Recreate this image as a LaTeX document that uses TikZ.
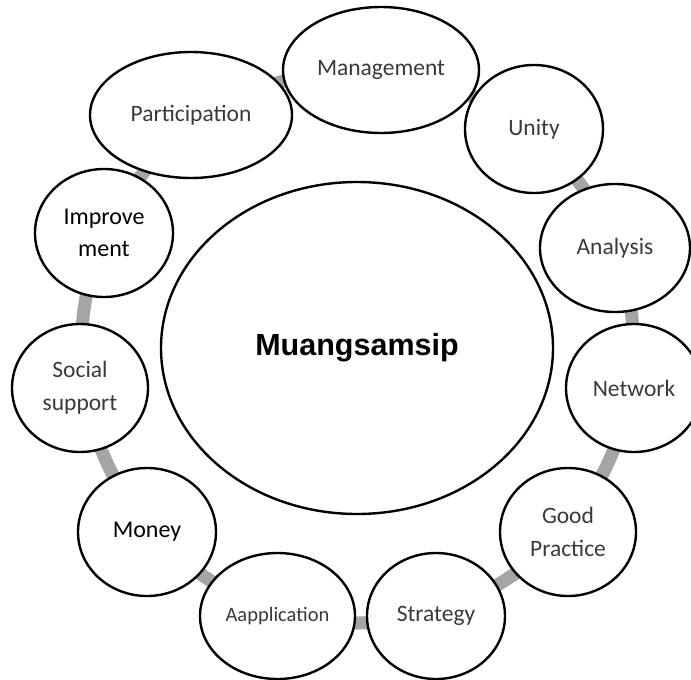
\documentclass[tikz,border=0pt]{standalone}
\usepackage{fontspec}
\setmainfont{Carlito}
\newfontfamily\headfont{Liberation Sans}
\usetikzlibrary{shapes.geometric}
\definecolor{ringgray}{HTML}{A5A5A5}
\definecolor{softink}{HTML}{3A3A3A}
\begin{document}
\begin{tikzpicture}[x=1pt,y=-1pt,
  bubble/.style={ellipse,draw=black,line width=2.4pt,fill=white,inner sep=0pt,
    align=center,text=softink,font=\fontsize{23.5}{33}\selectfont},
  strong/.style={text=black,font=\fontsize{24}{32}\selectfont},
  ring/.style={draw=ringgray,line width=13pt}]
\useasboundingbox (0,0) rectangle (691,680);
\fill[white] (0,0) rectangle (691,680);

% gray ring linking the outer bubbles
\coordinate (ringc) at (357.5,347);
\draw[ring] (ringc) circle[radius=276];

% central topic
\node[bubble,minimum width=392,minimum height=332,text=black,
  font=\headfont\bfseries\fontsize{30.5}{36}\selectfont] (hub) at (357,348) {Muangsamsip};

% outer bubbles, clockwise from the top
\node[bubble,minimum width=196,minimum height=126] (mgmt) at (381,70) {Management};
\node[bubble,minimum width=138,minimum height=128] (unity) at (534,129) {Unity};
\node[bubble,minimum width=150,minimum height=128] (analysis) at (615,248) {Analysis};
\node[bubble,minimum width=136,minimum height=128] (network) at (634,388) {Network};
\node[bubble,minimum width=136,minimum height=128] (good) at (568,532) {Good\\Practice};
\node[bubble,minimum width=138,minimum height=126] (strategy) at (436,616) {Strategy};
\node[bubble,minimum width=155,minimum height=126,font=\fontsize{20.5}{24}\selectfont] (app) at (277.5,616) {Aapplication};
\node[bubble,strong,minimum width=138,minimum height=128] (money) at (147,532) {Money};
\node[bubble,minimum width=136,minimum height=128] (social) at (80,388) {Social\\support};
\node[bubble,strong,minimum width=138,minimum height=128] (improve) at (104,233) {Improve\\ment};
\node[bubble,minimum width=202,minimum height=126] (part) at (191,115) {Participation};
\end{tikzpicture}
\end{document}
